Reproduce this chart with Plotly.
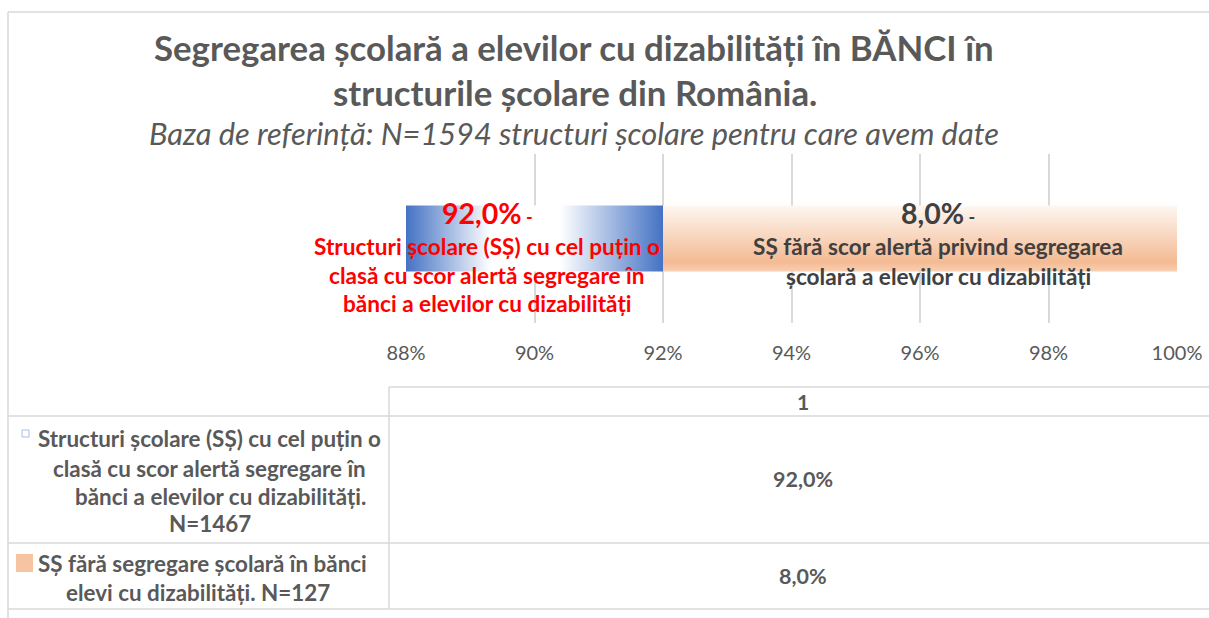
import plotly.graph_objects as go

# ---------------- data ----------------
categories = ["1"]
series_names = [
    "Structuri școlare (SȘ) cu cel puțin o clasă cu scor alertă segregare în bănci a elevilor cu dizabilități. N=1467",
    "SȘ fără segregare școlară în bănci elevi cu dizabilități. N=127",
]
legend_lines = [
    ["Structuri școlare (SȘ) cu cel puțin o", "clasă cu scor alertă segregare în",
     "bănci a elevilor cu dizabilități.", "N=1467"],
    ["SȘ fără segregare școlară în bănci", "elevi cu dizabilități. N=127"],
]
values = [92.0, 8.0]
label_lines = [
    ["Structuri școlare (SȘ) cu cel puțin o", "clasă cu scor alertă segregare în",
     "bănci a elevilor cu dizabilități"],
    ["SȘ fără scor alertă privind segregarea", "școlară a elevilor cu dizabilități"],
]
tick_values = [88, 90, 92, 94, 96, 98, 100]
tick_labels = ["88%", "90%", "92%", "94%", "96%", "98%", "100%"]
x_range = [88, 100]
title_lines = ["Segregarea școlară a elevilor cu dizabilități în BĂNCI în",
               "structurile școlare din România."]
subtitle = "Baza de referință: N=1594 structuri școlare pentru care avem date"

# ---------------- style ----------------
W, H = 1209, 618
FONT = "Lato"
GRAY = "#595959"
GRID = "#D9D9D9"


def px(x):
    return x / W


def py(y):
    return 1 - y / H


def fmt(v):
    return f"{v:.1f}%".replace(".", ",")


fig = go.Figure()

half = 0.39
blue_scale = [[0, "#4472C4"], [0.33, "#FFFFFF"], [0.6, "#FFFFFF"], [1, "#4472C4"]]
peach_scale = [[0, "#F8D0B4"], [0.14, "#F4BA93"], [1, "#FEF7F2"]]

base = 0.0
for i, v in enumerate(values):
    x0, x1 = base, base + v
    xs = [x0, x1, x1, x0, x0]
    ys = [-half, -half, half, half, -half]
    if i == 0:
        grad = dict(type="horizontal", colorscale=blue_scale,
                    start=max(x0, x_range[0]), stop=x1)
    else:
        grad = dict(type="vertical", colorscale=peach_scale, start=-half, stop=half)
    fig.add_trace(go.Scatter(
        x=xs, y=ys, mode="lines", fill="toself", fillgradient=grad,
        line=dict(width=0, color="rgba(0,0,0,0)"), name=series_names[i],
        hoverinfo="skip", showlegend=False))
    base = x1

fig.update_layout(
    width=W, height=H, autosize=False,
    margin=dict(l=0, r=0, t=0, b=0, pad=0, autoexpand=False),
    paper_bgcolor="white", plot_bgcolor="white",
    font=dict(family=FONT, color=GRAY),
    showlegend=False,
    xaxis=dict(domain=[px(406), px(1177)], range=x_range, tickvals=tick_values,
               ticktext=tick_labels, showgrid=True, gridcolor=GRID, gridwidth=2,
               zeroline=False, showline=False, ticks="", ticklabelstandoff=16,
               automargin=False,
               tickfont=dict(family=FONT, size=20, color=GRAY), fixedrange=True),
    yaxis=dict(domain=[py(323), py(154)], range=[-1, 1], showgrid=False,
               zeroline=False, showticklabels=False, fixedrange=True,
               automargin=False),
)

ann = []
# titles
ann.append(dict(x=px(574), y=py(47), text=f"<b>{title_lines[0]}</b>",
                font=dict(size=34.8, color=GRAY)))
ann.append(dict(x=px(575), y=py(93), text=f"<b>{title_lines[1]}</b>",
                font=dict(size=34.8, color=GRAY)))
ann.append(dict(x=px(574), y=py(133), text=f"<i>{subtitle}</i>",
                font=dict(size=30.8, color=GRAY)))

# bar labels
label_cfg = [dict(cx=487, color="#FF0000", ys=[246, 275, 303]),
             dict(cx=938, color="#404040", ys=[247, 277])]
for i, v in enumerate(values):
    cfg = label_cfg[i]
    ann.append(dict(x=px(cfg["cx"]), y=py(213),
                    text=f"<b><span style='font-size:28.5px'>{fmt(v)}</span> -</b>",
                    font=dict(size=18, color=cfg["color"])))
    for line, yy in zip(label_lines[i], cfg["ys"]):
        ann.append(dict(x=px(cfg["cx"]), y=py(yy), text=f"<b>{line}</b>",
                        font=dict(size=22.6, color=cfg["color"])))

# data table texts
ann.append(dict(x=px(803), y=py(401), text=f"<b>{categories[0]}</b>",
                font=dict(size=21, color=GRAY)))
table_value_y = [479, 576]
for v, yy in zip(values, table_value_y):
    ann.append(dict(x=px(803), y=py(yy), text=f"<b>{fmt(v)}</b>",
                    font=dict(size=21.5, color=GRAY)))

legend_cfg = [dict(cx=[209, 209, 220, 210], ys=[438, 468, 496, 523]),
              dict(cx=[202, 198], ys=[563, 592])]
for i, lines in enumerate(legend_lines):
    cfg = legend_cfg[i]
    for line, cx, yy in zip(lines, cfg["cx"], cfg["ys"]):
        ann.append(dict(x=px(cx), y=py(yy), text=f"<b>{line}</b>",
                        font=dict(size=22.4, color=GRAY)))

for a in ann:
    a.update(xref="paper", yref="paper", showarrow=False,
             xanchor="center", yanchor="middle")
fig.update_layout(annotations=ann)

# frame and table lines
shapes = []


def hline(x0, x1, y):
    shapes.append(dict(type="line", xref="paper", yref="paper",
                       x0=px(x0), x1=px(x1), y0=py(y), y1=py(y),
                       line=dict(color=GRID, width=1.5)))


def vline(x, y0, y1):
    shapes.append(dict(type="line", xref="paper", yref="paper",
                       x0=px(x), x1=px(x), y0=py(y0), y1=py(y1),
                       line=dict(color=GRID, width=1.5)))


hline(8, W, 12)
vline(8, 12, H)
hline(389, W, 387)
hline(8, W, 416)
hline(8, W, 543)
hline(8, W, 609)
vline(389, 387, 609)

# legend keys in the table
shapes.append(dict(type="rect", xref="paper", yref="paper",
                   x0=px(22), x1=px(29), y0=py(437), y1=py(430),
                   fillcolor="white", line=dict(color="#A9BEE3", width=1)))
shapes.append(dict(type="rect", xref="paper", yref="paper",
                   x0=px(16), x1=px(33), y0=py(572), y1=py(554),
                   fillcolor="#F6C4A1", line=dict(width=0)))
fig.update_layout(shapes=shapes)

fig.write_html(
    "out.html",
    config=dict(displayModeBar=False, responsive=False),
    post_script="document.body.style.margin='0';document.body.style.overflow='hidden';",
)
